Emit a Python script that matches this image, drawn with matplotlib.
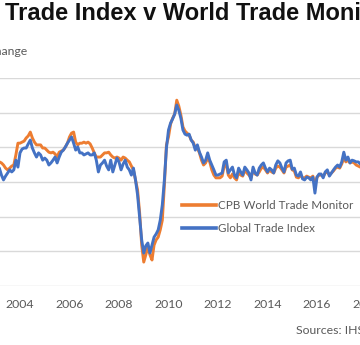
import numpy as np
import matplotlib
matplotlib.use("Agg")
import matplotlib.pyplot as plt

plt.rcParams['font.family'] = ['Lato', 'DejaVu Sans']

# monthly % change, Jan 2003 .. Nov 2017
gti = [
    5.0, 4.5, 4.0, 2.0, 0.6, 1.7, 2.6, 3.5, 2.9, 3.5, 6.3, 4.3,         # 2003
    8.4, 9.5, 9.8, 9.8, 11.0, 12.1, 9.8, 8.4, 7.2, 8.4, 7.8, 6.3,      # 2004
    6.9, 6.3, 4.9, 5.5, 6.3, 7.2, 5.5, 7.2, 8.6, 9.2, 10.1, 11.2,      # 2005
    12.1, 13.0, 11.2, 9.2, 10.1, 8.4, 8.4, 7.8, 8.1, 8.4, 7.8, 7.8,    # 2006
    8.4, 6.3, 2.9, 4.9, 5.5, 6.3, 4.6, 3.5, 6.3, 2.9, 4.9, 6.9,        # 2007
    5.8, 3.5, 5.2, 6.3, 4.3, 3.5, 2.0, 4.0, 0.6, -3.7, -10.1, -16.7,   # 2008
    -20.5, -18.4, -17.6, -20.5, -18.2, -15.9, -15.0, -13.8, -11.0, -6.6, 0.6, 9.8,  # 2009
    15.0, 17.0, 18.2, 19.6, 22.2, 20.7, 18.4, 15.0, 13.8, 13.5, 13.8, 12.1,  # 2010
    11.2, 9.2, 10.7, 8.6, 7.2, 5.5, 6.3, 8.4, 6.3, 4.9, 3.5, 2.0,      # 2011
    2.0, 2.3, 2.6, 5.8, 6.3, 2.6, 3.5, 4.3, 2.0, 1.2, 4.0, 2.9,        # 2012
    2.0, 4.3, 3.5, 2.6, 0.6, 4.3, 2.6, 2.0, 4.0, 4.9, 5.5, 4.0,        # 2013
    2.9, 4.0, 3.5, 2.6, 4.9, 6.1, 5.5, 4.0, 2.9, 5.5, 6.1, 6.3,        # 2014
    3.7, 4.0, 2.0, 1.7, 2.9, 0.9, 0.6, 1.4, 1.2, 0.6, 1.4, -3.2,       # 2015
    1.4, 2.3, 2.3, 1.2, 2.9, 3.5, 1.7, 2.6, 3.5, 4.3, 4.9, 4.3,        # 2016
    5.8, 8.6, 6.3, 7.2, 5.5, 6.3, 6.1, 5.8, 5.8, 5.2, 5.0,             # 2017
]
cpb = [
    6.5, 6.0, 5.8, 5.5, 4.9, 4.0, 3.5, 4.0, 4.6, 4.9, 7.8, 11.2,       # 2003
    11.2, 11.5, 11.8, 12.7, 13.3, 14.4, 12.7, 11.5, 10.7, 10.7, 10.7, 9.8,  # 2004
    9.8, 9.2, 8.6, 8.4, 8.6, 8.1, 7.2, 8.6, 8.9, 9.2, 10.1, 11.2,      # 2005
    13.0, 14.1, 14.4, 11.5, 10.7, 11.2, 11.2, 11.5, 11.2, 11.5, 11.0, 9.8,  # 2006
    8.4, 7.2, 7.2, 7.2, 7.8, 8.4, 8.4, 8.6, 7.8, 7.2, 6.9, 7.2,        # 2007
    6.9, 6.3, 7.2, 6.9, 6.3, 5.8, 4.6, 3.5, 0.6, -2.3, -8.9, -18.2,    # 2008
    -23.1, -21.0, -18.7, -21.0, -22.5, -18.2, -16.7, -15.9, -13.8, -11.0, -0.9, 10.7,  # 2009
    13.0, 16.7, 18.4, 19.6, 23.6, 21.9, 19.3, 15.9, 14.7, 14.1, 13.5, 12.1,  # 2010
    11.5, 9.8, 9.8, 8.4, 6.3, 4.9, 5.5, 6.9, 5.8, 3.5, 2.0, 1.2,       # 2011
    1.2, 1.2, 1.7, 4.6, 5.2, 2.0, 1.2, 2.3, 1.2, 0.6, 2.9, 2.0,        # 2012
    1.7, 3.5, 2.6, 2.0, 1.2, 3.5, 2.3, 2.0, 2.9, 4.0, 4.3, 3.5,        # 2013
    2.6, 3.5, 2.9, 2.6, 4.0, 4.6, 4.3, 3.5, 2.6, 4.3, 4.6, 4.9,        # 2014
    3.5, 3.2, 1.4, 1.2, 2.0, 1.2, 1.2, 1.7, 1.4, 1.2, 1.7, -0.9,       # 2015
    1.4, 2.0, 2.0, 1.7, 2.6, 2.9, 2.0, 2.6, 3.2, 4.0, 4.3, 4.0,        # 2016
    5.2, 6.9, 5.8, 6.3, 5.5, 5.8, 5.5, 4.9, 4.6, 4.3, 4.2,             # 2017
]
t = 2003 + np.arange(len(gti)) / 12.0

years = list(range(2004, 2020, 2))
yticks = [-30, -20, -10, 0, 10, 20, 30]

fig = plt.figure(figsize=(3.6, 3.45), dpi=100)
W, H = 360.0, 345.0
# axes run past the picture edges (the reference is a crop)
ax = fig.add_axes([-40 / W, (H - 286) / H, 460 / W, 208 / H])

ax.plot(t, cpb, color='#ED7D31', lw=2.1, label='CPB World Trade Monitor', solid_joinstyle='round')
ax.plot(t, gti, color='#4472C4', lw=2.1, label='Global Trade Index', solid_joinstyle='round')

ax.set_yticks(yticks)
ax.set_xticks(years)
ax.set_xticklabels([str(y) for y in years])
ax.set_xlim(2004 + (-40 - 20) / 24.75, 2004 + (420 - 20) / 24.75)
ax.set_ylim(-30, 30)
ax.grid(axis='y', color='#d9d9d9', lw=1.0)
ax.set_axisbelow(True)
for s in ax.spines.values():
    s.set_visible(False)
ax.tick_params(axis='x', length=0, pad=9, labelsize=8.8, labelcolor='#595959')
ax.tick_params(axis='y', length=0, labelleft=False)

leg = ax.legend(loc='upper left', bbox_to_anchor=(182 / W, (H - 200) / H),
                bbox_transform=fig.transFigure, frameon=False, fontsize=8.4,
                handlelength=2.9, handletextpad=0.2, labelspacing=1.05,
                borderpad=0, borderaxespad=0)
for line in leg.get_lines():
    line.set_linewidth(2.6)
for txt in leg.get_texts():
    txt.set_color('#595959')

fig.text(5 / W, (H - 20) / H, 'Trade Index v World Trade Monitor', fontsize=17.0,
         fontweight='bold', family=['Liberation Sans'], color='#111111', ha='left', va='baseline')
fig.text(27 / W, (H - 55) / H, '% change', fontsize=8.8, color='#595959', ha='right', va='baseline')
fig.text(296 / W, (H - 333) / H, 'Sources: IHS Markit, CPB', fontsize=8.8, color='#595959',
         ha='left', va='baseline')

fig.savefig('out.png', dpi=100)
